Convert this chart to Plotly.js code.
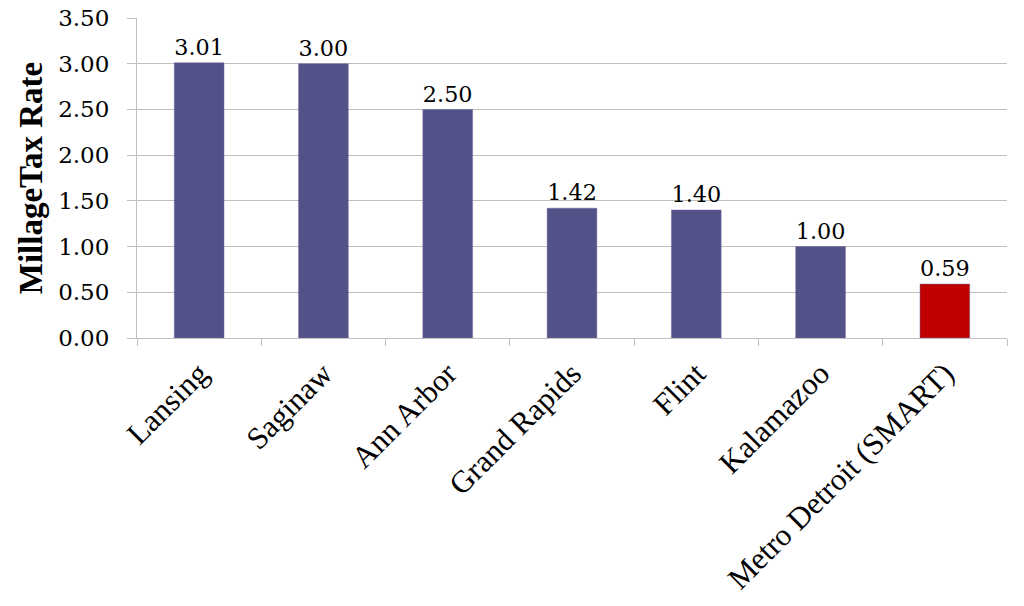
<!DOCTYPE html>
<html>
<head>
<meta charset="utf-8">
<script src="https://cdn.plot.ly/plotly-3.0.1.min.js"></script>
<style>html,body{margin:0;padding:0;background:#fff;}#chart{width:1024px;height:606px;}</style>
</head>
<body>
<div id="chart"></div>
<script>
const categories = ["Lansing", "Saginaw", "Ann Arbor", "Grand Rapids", "Flint", "Kalamazoo", "Metro Detroit (SMART)"];
const millageRates = [3.01, 3.00, 2.50, 1.42, 1.40, 1.00, 0.59];
const barColors = ["#525288", "#525288", "#525288", "#525288", "#525288", "#525288", "#C00000"];
const yTickValues = [0, 0.5, 1, 1.5, 2, 2.5, 3, 3.5];

const trace = {
  type: "bar",
  x: categories,
  y: millageRates,
  marker: {color: barColors, line: {color: "#6a6aa0", width: 0.5}},
  width: 0.4,
  text: millageRates.map(v => v.toFixed(2)),
  textposition: "outside",
  textfont: {family: "DejaVu Serif, Georgia, serif", size: 23, color: "#000"},
  cliponaxis: false,
  hoverinfo: "skip"
};

const layout = {
  width: 1024,
  height: 606,
  margin: {l: 137, r: 17, t: 18, b: 268},
  paper_bgcolor: "#fff",
  plot_bgcolor: "#fff",
  showlegend: false,
  xaxis: {
    type: "category",
    tickangle: -45,
    tickfont: {family: "Liberation Serif, Times New Roman, serif", size: 31, color: "#000"},
    ticklabelstandoff: 4,
    showline: true,
    linecolor: "#BFBFBF",
    linewidth: 1,
    ticks: "outside",
    ticklen: 7,
    tickcolor: "#BFBFBF",
    tickson: "boundaries",
    showgrid: false,
    automargin: false
  },
  yaxis: {
    range: [0, 3.5],
    tickvals: yTickValues,
    ticktext: yTickValues.map(v => v.toFixed(2)),
    tickfont: {family: "DejaVu Serif, Georgia, serif", size: 23, color: "#000"},
    ticklabelstandoff: 13,
    showgrid: true,
    gridcolor: "#BFBFBF",
    gridwidth: 1,
    showline: true,
    linecolor: "#BFBFBF",
    ticks: "outside",
    ticklen: 9,
    tickcolor: "#BFBFBF",
    zeroline: false,
    automargin: false,
    title: {
      text: "<b>MillageTax Rate</b>",
      font: {family: "Liberation Serif, Times New Roman, serif", size: 33, color: "#000"},
      standoff: 5
    }
  },
  bargap: 0.6
};

Plotly.newPlot("chart", [trace], layout, {displayModeBar: false, staticPlot: true});
</script>
</body>
</html>
